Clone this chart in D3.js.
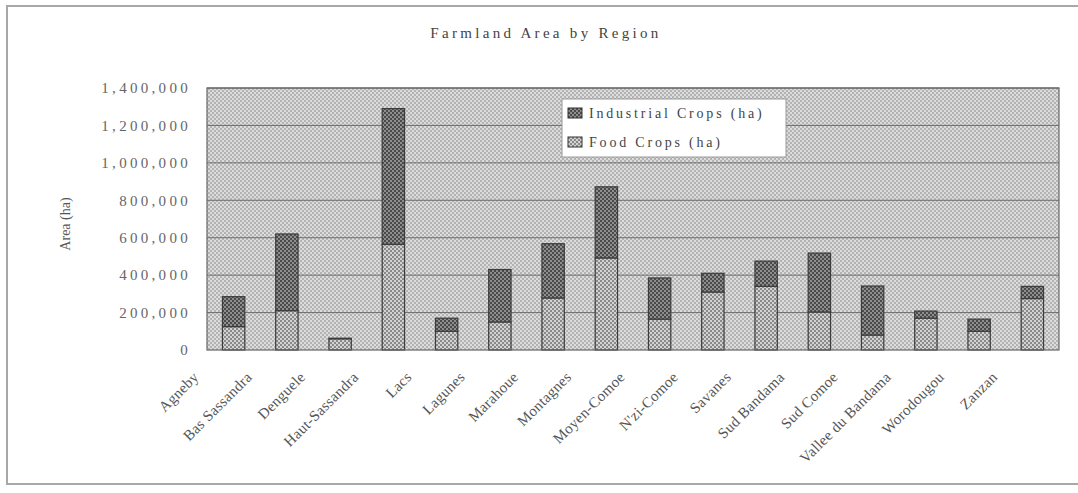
<!DOCTYPE html>
<html>
<head>
<meta charset="utf-8">
<script src="https://cdn.jsdelivr.net/npm/d3@7"></script>
<style>
  body { margin: 0; background: #fff; }
  svg text { font-family: "Liberation Serif", "DejaVu Serif", serif; }
</style>
</head>
<body>
<script>
//data
var regions = ["Agneby", "Bas Sassandra", "Denguele", "Haut-Sassandra", "Lacs", "Lagunes", "Marahoue", "Montagnes",
  "Moyen-Comoe", "N'zi-Comoe", "Savanes", "Sud Bandama", "Sud Comoe", "Vallee du Bandama", "Worodougou", "Zanzan"];
var foodCrops = [125000, 210000, 60000, 565000, 100000, 150000, 278000, 492000,
  165000, 310000, 340000, 203000, 80000, 170000, 100000, 275000];
var industrialCrops = [160000, 410000, 3000, 725000, 70000, 280000, 290000, 380000,
  220000, 100000, 135000, 315000, 262000, 38000, 65000, 65000];
var seriesNames = ["Food Crops (ha)", "Industrial Crops (ha)"];
var yTicks = [0, 200000, 400000, 600000, 800000, 1000000, 1200000, 1400000];

var width = 1078, height = 493;
var plot = {left: 207, right: 1059, top: 88, bottom: 350};

var svg = d3.select("body").append("svg")
  .attr("width", width)
  .attr("height", height);

//fill patterns that mimic the scanned Excel hatching
var defs = svg.append("defs");
function makePattern(id, base, dot){
  var p = defs.append("pattern")
    .attr("id", id)
    .attr("width", 4).attr("height", 4)
    .attr("patternUnits", "userSpaceOnUse");
  p.append("rect").attr("width", 4).attr("height", 4).attr("fill", base);
  p.append("rect").attr("x", 0).attr("y", 0).attr("width", 2).attr("height", 2).attr("fill", dot);
  p.append("rect").attr("x", 2).attr("y", 2).attr("width", 2).attr("height", 2).attr("fill", dot);
}
makePattern("bgPat", "#dcdcdc", "#b3b3b3");
makePattern("foodPat", "#d2d2d2", "#8a8a8a");
makePattern("indPat", "#8e8e8e", "#4a4a4a");

//outer frame
svg.append("rect")
  .attr("x", 7).attr("y", 6)
  .attr("width", width + 10).attr("height", 478)
  .attr("fill", "none")
  .attr("stroke", "#a8a8a8")
  .attr("stroke-width", 2);

//title
svg.append("text")
  .attr("x", 546).attr("y", 38)
  .attr("text-anchor", "middle")
  .style("font-size", "15px")
  .style("letter-spacing", "3.3px")
  .style("fill", "#444")
  .text("Farmland Area by Region");

var x = d3.scaleBand()
  .domain(regions)
  .range([plot.left, plot.right])
  .paddingInner(0.58)
  .paddingOuter(0.29);

var y = d3.scaleLinear()
  .domain([0, 1400000])
  .range([plot.bottom, plot.top]);

//plot background
svg.append("rect")
  .attr("x", plot.left).attr("y", plot.top)
  .attr("width", plot.right - plot.left)
  .attr("height", plot.bottom - plot.top)
  .attr("fill", "url(#bgPat)");

//gridlines
svg.append("g")
  .selectAll("line")
  .data(yTicks.slice(1))
  .enter()
  .append("line")
  .attr("x1", plot.left).attr("x2", plot.right)
  .attr("y1", function(d){ return y(d); })
  .attr("y2", function(d){ return y(d); })
  .attr("stroke", "#6e6e6e")
  .attr("stroke-width", 1);

//stacked bars
var table = regions.map(function(r, i){
  return {region: r, food: foodCrops[i], industrial: industrialCrops[i]};
});
var stack = d3.stack().keys(["food", "industrial"]);
var layers = stack(table);
var fills = {food: "url(#foodPat)", industrial: "url(#indPat)"};

svg.append("g")
  .selectAll("g")
  .data(layers)
  .enter()
  .append("g")
  .attr("fill", function(d){ return fills[d.key]; })
  .selectAll("rect")
  .data(function(d){ return d; })
  .enter()
  .append("rect")
  .attr("x", function(d){ return x(d.data.region); })
  .attr("width", x.bandwidth())
  .attr("y", function(d){ return y(d[1]); })
  .attr("height", function(d){ return y(d[0]) - y(d[1]); })
  .attr("stroke", "#3c3c3c")
  .attr("stroke-width", 1.2);

//plot border
svg.append("rect")
  .attr("x", plot.left).attr("y", plot.top)
  .attr("width", plot.right - plot.left)
  .attr("height", plot.bottom - plot.top)
  .attr("fill", "none")
  .attr("stroke", "#666")
  .attr("stroke-width", 1.2);

//y axis
var yAxis = d3.axisLeft(y)
  .tickValues(yTicks)
  .tickFormat(d3.format(","))
  .tickSize(0)
  .tickPadding(16);

var yg = svg.append("g")
  .attr("transform", "translate(" + plot.left + ",0)")
  .call(yAxis);
yg.select(".domain").remove();
yg.selectAll("text")
  .style("font-family", "Liberation Serif")
  .style("font-size", "15px")
  .style("letter-spacing", "3.3px")
  .style("fill", "#666");

svg.append("text")
  .attr("transform", "translate(70,224) rotate(-90)")
  .attr("text-anchor", "middle")
  .style("font-size", "14px")
  .style("fill", "#555")
  .text("Area (ha)");

//x axis labels, rotated
svg.append("g")
  .selectAll("text")
  .data(regions)
  .enter()
  .append("text")
  .attr("transform", function(d){
    return "translate(" + (x(d) + x.bandwidth() / 2 - 34) + ",378) rotate(-45)";
  })
  .attr("text-anchor", "end")
  .style("font-size", "15px")
  .style("letter-spacing", "0.3px")
  .style("fill", "#555")
  .text(function(d){ return d; });

//legend
var legend = svg.append("g");
legend.append("rect")
  .attr("x", 562).attr("y", 99)
  .attr("width", 224).attr("height", 58)
  .attr("fill", "#fff")
  .attr("stroke", "#999")
  .attr("stroke-width", 1);

var legendItems = [
  {name: seriesNames[1], fill: fills.industrial},
  {name: seriesNames[0], fill: fills.food}
];
var items = legend.selectAll(".item")
  .data(legendItems)
  .enter()
  .append("g")
  .attr("class", "item")
  .attr("transform", function(d, i){ return "translate(568," + (108 + i * 29) + ")"; });
items.append("rect")
  .attr("width", 14).attr("height", 10)
  .attr("fill", function(d){ return d.fill; })
  .attr("stroke", "#333");
items.append("text")
  .attr("x", 21).attr("y", 10)
  .style("font-size", "14px")
  .style("letter-spacing", "2.8px")
  .style("fill", "#444")
  .text(function(d){ return d.name; });
</script>
</body>
</html>
